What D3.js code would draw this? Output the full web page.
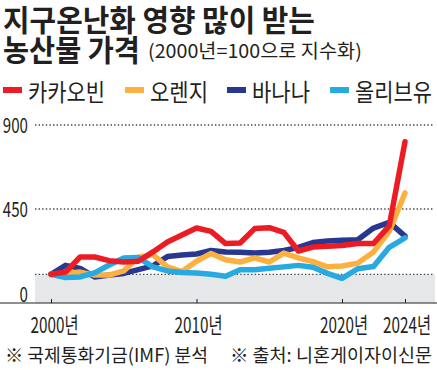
<!DOCTYPE html>
<html><head><meta charset="utf-8">
<script src="https://cdn.jsdelivr.net/npm/d3@7"></script>
<style>
html,body{margin:0;padding:0;background:#fff;}
svg{display:block;}
text{font-family:"Noto Sans CJK KR","Noto Sans",sans-serif;fill:#231f20;}
</style></head>
<body>
<svg id="c" width="437" height="370"></svg>
<script>
const years = d3.range(2000, 2025);
const cocoa  = [100,112,193,193,173,166,170,220,273,311,348,330,265,268,345,350,325,225,246,250,255,265,265,360,810];
const orange = [100,105,112,96,96,118,192,205,140,115,170,212,178,166,188,166,214,188,168,140,145,160,220,330,536];
const banana = [100,148,132,86,96,105,125,145,195,204,209,228,220,218,214,218,228,244,270,278,282,285,348,378,305];
const olive  = [100,83,86,108,150,188,190,140,118,110,107,100,90,125,125,132,140,148,138,105,78,130,142,245,295];
const seriesNames = ["카카오빈","오렌지","바나나","올리브유"];
const seriesColors = ["#ed1c24","#fbb040","#283891","#27aae1"];
const yTickValues = [900,450,0];
const gridValues = [900,450,100];
const xTickYears = [2000,2010,2020,2024];

const svg = d3.select("#c");
const x = d3.scaleLinear().domain([2000,2020,2024]).range([51,342,405]);
const y = d3.scaleLinear().domain([0,900]).range([293,125]);
const axisY = 303;

// squeeze a text horizontally so it spans targetW, anchored at (tx,ty)
function fit(sel, tx, ty, targetW, anchor){
  sel.attr("x",0).attr("y",0).attr("text-anchor",anchor||"start");
  const n = sel.node().getComputedTextLength();
  const s = targetW / n;
  sel.attr("transform",`translate(${tx},${ty}) scale(${s},1)`);
  return sel;
}

// gray band below 100
svg.append("rect").attr("x",35).attr("y",y(100)).attr("width",400).attr("height",axisY-y(100)).attr("fill","#e6e7e8");

// dotted gridlines
svg.append("g").selectAll("line").data(gridValues).join("line")
  .attr("x1",35).attr("x2",433).attr("y1",d=>y(d)).attr("y2",d=>y(d))
  .attr("stroke","#444").attr("stroke-width",1.3).attr("stroke-dasharray","1.4,2.2");

// y axis labels
const gy = svg.append("g").attr("transform","translate(28,0)")
  .call(d3.axisLeft(y).tickValues(yTickValues).tickSize(0).tickPadding(0));
gy.select(".domain").remove();
gy.selectAll(".tick text").each(function(d){
  const t = d3.select(this).attr("font-family","Roboto, sans-serif").attr("font-size",21)
    .attr("fill","#231f20").attr("dy",null);
  fit(t, 0, d===0?8:7.5, String(d).length*8.4, "end");
});

// x axis
svg.append("line").attr("x1",0).attr("x2",437).attr("y1",axisY).attr("y2",axisY).attr("stroke","#231f20").attr("stroke-width",1.2);
const gx = svg.append("g").attr("transform",`translate(0,${axisY})`)
  .call(d3.axisBottom(x).tickValues(xTickYears).tickSize(-4).tickFormat(d=>d+"년"));
gx.select(".domain").remove();
gx.selectAll(".tick line").attr("stroke","#231f20").attr("stroke-width",1);
gx.selectAll(".tick text").each(function(d){
  const t = d3.select(this).attr("font-family","Roboto, 'Noto Sans CJK KR', sans-serif").attr("font-size",22)
    .attr("fill","#231f20").attr("dy",null);
  fit(t, d===2000?3:1.5, 30, 48, "middle");
});

// lines
const all = [cocoa, orange, banana, olive];
const drawOrder = [2,1,3,0];
const line = d3.line().x((d,i)=>x(years[i])).y(d=>y(d));
drawOrder.forEach(k=>{
  svg.append("path").datum(all[k]).attr("d",line).attr("fill","none")
    .attr("stroke",seriesColors[k]).attr("stroke-width",5.5).attr("stroke-linejoin","round").attr("stroke-linecap","round");
});

// title
fit(svg.append("text").attr("font-size",30).attr("font-weight",700).text("지구온난화 영향 많이 받는"), 3, 31, 312);
fit(svg.append("text").attr("font-size",30).attr("font-weight",700).text("농산물 가격"), 3, 61, 137);
fit(svg.append("text").attr("font-size",19).attr("font-weight",400).text("(2000년=100으로 지수화)"), 148, 58, 214);

// legend
const legX = [3,125,227,330];
const legW = [77,58,58,77];
seriesNames.forEach((n,i)=>{
  svg.append("rect").attr("x",legX[i]).attr("y",87).attr("width",19).attr("height",6).attr("fill",seriesColors[i]);
  fit(svg.append("text").attr("font-size",24).text(n), legX[i]+25, 100.5, legW[i]);
});

// footer
fit(svg.append("text").attr("font-size",18.5).text("※ 국제통화기금(IMF) 분석"), 5, 362, 203);
fit(svg.append("text").attr("font-size",18.5).text("※ 출처: 니혼게이자이신문"), 230, 362, 202);
</script>
</body></html>
